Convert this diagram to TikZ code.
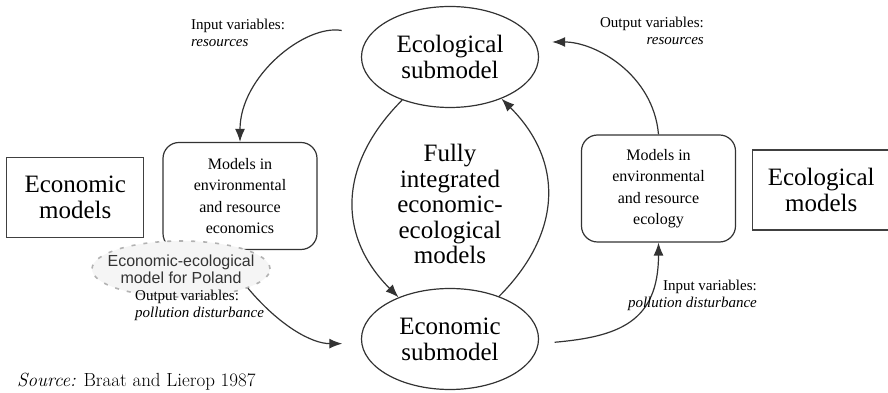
\documentclass[tikz,border=0pt]{standalone}
\usepackage{fontspec}
\usepackage{tikz}
\usetikzlibrary{shapes.geometric, arrows.meta, positioning, calc}
\newfontfamily\timesfont{Liberation Serif}
\newfontfamily\arialfont{Liberation Sans}

\begin{document}
\begin{tikzpicture}[
  x=1pt, y=1pt,
  node distance=17pt,
  submodel/.style={ellipse, draw=black!80, line width=1.2pt,
    minimum width=177pt, minimum height=101pt, inner sep=0pt,
    align=center, font=\timesfont\fontsize{25}{26}\selectfont},
  fieldbox/.style={rectangle, draw=black!75, line width=1.2pt,
    minimum width=137pt, minimum height=80pt, align=center,
    font=\timesfont\fontsize{25}{26}\selectfont},
  modelbox/.style={rectangle, draw=black!80, rounded corners=16pt,
    line width=1.2pt, minimum width=154pt, minimum height=107pt,
    align=center, font=\timesfont\fontsize{16}{21.5}\selectfont},
  varlabel/.style={font=\timesfont\fontsize{15}{17}\selectfont,
    inner sep=1pt},
  arrow/.style={-{Latex[length=13pt, width=10pt]}, line width=1.2pt,
    draw=black!80}
]
\useasboundingbox (0,0) rectangle (888,393);

\node (ecol)  [submodel] at (450,336) {Ecological\\submodel};
\node (econ)  [submodel] at (450,54)  {Economic\\submodel};
\node (fully) [font=\timesfont\fontsize{25}{25.5}\selectfont, align=center]
  at (450,189) {Fully\\integrated\\economic-\\ecological\\models};

\node (lbox) [modelbox] at (240,197)
  {Models in\\environmental\\and resource\\economics};
\node (rbox) [modelbox] at (658.5,204.5)
  {Models in\\environmental\\and resource\\ecology};
\node (econmod) [fieldbox, left=18pt of lbox, yshift=-1.5pt]
  {Economic\\models};
\node (ecolmod) [fieldbox, right=16pt of rbox, yshift=-1.5pt]
  {Ecological\\models};

\node (poland) [ellipse, draw=gray!60, dash pattern=on 4pt off 8pt,
  line width=1.6pt, fill=gray!8, minimum width=178pt,
  minimum height=56pt, inner sep=0pt,
  label={[font=\arialfont\fontsize{16}{17}\selectfont, align=center,
    text=black!80]center:Economic-ecological\\model for Poland}]
  at (181,124) {};

\draw[arrow] (ecol.-138) to[out=-135, in=135, looseness=1.15] (econ.141);
\draw[arrow] (econ.41)   to[out=45, in=-45, looseness=1.15]   (ecol.-39);
\draw[arrow, shorten <=28pt] (ecol.165) to[out=170, in=90] (lbox.north);
\draw[arrow, shorten >=17pt] (rbox.north) to[out=95, in=0] (ecol.10);
\draw[arrow, shorten <=16pt] (econ.-3)
  to[out=5, in=-90, looseness=1.3] (rbox.south);
\draw[arrow, shorten >=19pt] (poland.-16) to[out=-50, in=180] (econ.183);

\node (resin)   [varlabel, anchor=west, align=left]  at (190,360)
  {Input variables:\\\textit{resources}};
\node (resout)  [varlabel, anchor=east, align=right] at (705,362)
  {Output variables:\\\textit{resources}};
\node (pollout) [varlabel, anchor=west, align=left]  at (134,88)
  {Output variables:\\\textit{pollution disturbance}};
\node (pollin)  [varlabel, anchor=east, align=right] at (758,98)
  {Input variables:\\\textit{pollution disturbance}};

\node (source) [anchor=base west, font=\fontsize{19}{23}\selectfont,
  inner sep=0pt] at (17,6) {\textit{Source:} Braat and Lierop 1987};

\end{tikzpicture}
\end{document}
